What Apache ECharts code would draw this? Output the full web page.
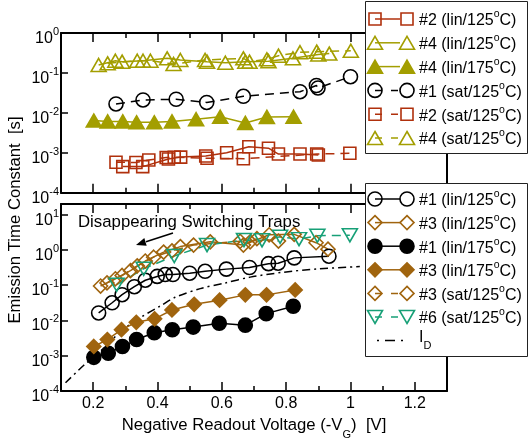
<!DOCTYPE html>
<html><head><meta charset="utf-8">
<script src="https://cdn.jsdelivr.net/npm/echarts@6/dist/echarts.min.js"></script>
<style>html,body{margin:0;padding:0;background:#fff}#c{width:529px;height:441px}</style>
</head><body><div id="c"></div>
<script>
// ---------------- DATA ----------------
const xMajorTicks = [0.2, 0.4, 0.6, 0.8, 1.0, 1.2];
const xMinorTicks = [0.3, 0.5, 0.7, 0.9, 1.1];

// top panel  [V, tau(s)]
const top2lin125 = [[0.292,0.00045],[0.354,0.00045],[0.434,0.0007],[0.472,0.00078],[0.55,0.00083],[0.615,0.001],[0.684,0.00142],[0.745,0.0013],[0.776,0.00093],[0.843,0.00093],[0.9,0.00088]];
const top4lin125 = [[0.217,0.158],[0.269,0.202],[0.290,0.191],[0.355,0.202],[0.430,0.232],[0.471,0.211],[0.554,0.191],[0.611,0.18],[0.673,0.191],[0.745,0.197],[0.821,0.232],[0.900,0.29],[0.934,0.305]];
const top4lin175 = [[0.202,0.0064],[0.245,0.0061],[0.292,0.0061],[0.335,0.0058],[0.390,0.0058],[0.445,0.0061],[0.520,0.0069],[0.595,0.008],[0.673,0.0056],[0.740,0.0079],[0.823,0.008]];
const top1sat125 = [[0.271,0.0167],[0.355,0.021],[0.458,0.0219],[0.553,0.0182],[0.667,0.026],[0.843,0.0339],[0.894,0.0484],[0.899,0.042],[1.0,0.0805]];
const top2sat125 = [[0.271,0.00058],[0.333,0.00057],[0.373,0.00066],[0.427,0.00076],[0.452,0.00077],[0.554,0.00073],[0.667,0.00071],[0.895,0.00093],[0.998,0.00097]];
const top4sat125 = [[0.245,0.174],[0.337,0.202],[0.378,0.202],[0.450,0.167],[0.548,0.211],[0.667,0.232],[0.686,0.191],[0.740,0.219],[0.776,0.27],[0.843,0.33],[0.895,0.34],[1.001,0.36]];

// bottom panel
const bot1lin125 = [[0.217,0.0163],[0.259,0.0317],[0.290,0.0537],[0.328,0.0904],[0.362,0.138],[0.399,0.177],[0.424,0.2],[0.448,0.2],[0.500,0.218],[0.548,0.247],[0.614,0.285],[0.686,0.317],[0.745,0.407],[0.775,0.42],[0.825,0.594],[0.933,0.661]];
const bot3lin125 = [[0.223,0.0946],[0.269,0.152],[0.316,0.258],[0.362,0.483],[0.419,0.865],[0.471,1.24],[0.564,1.69],[0.667,1.37],[0.747,2.68],[0.825,2.76],[0.893,1.6],[0.93,1.05]];
const bot1lin175 = [[0.202,0.0009],[0.247,0.00118],[0.291,0.00182],[0.335,0.00287],[0.390,0.00446],[0.446,0.00547],[0.511,0.00648],[0.592,0.00834],[0.673,0.00735],[0.738,0.0156],[0.822,0.0253]];
const bot3lin175 = [[0.202,0.00183],[0.244,0.00287],[0.288,0.00547],[0.334,0.00887],[0.391,0.0111],[0.445,0.0198],[0.514,0.0287],[0.593,0.0376],[0.673,0.0531],[0.739,0.0531],[0.828,0.0734]];
const bot3sat125 = [[0.243,0.116],[0.290,0.188],[0.337,0.353],[0.388,0.621],[0.445,0.94],[0.512,1.37],[0.657,1.76],[0.688,1.69],[0.709,2.08],[0.776,1.78]];
const bot6sat125 = [[0.273,0.103],[0.357,0.292],[0.452,0.673],[0.554,1.37],[0.669,1.9],[0.725,1.87],[0.781,2.36],[0.840,2.02],[0.897,2.52],[0.998,2.6]];
const botID = [[0.114,1.71e-4],[0.170,5.27e-4],[0.223,1.35e-3],[0.288,5.05e-3],[0.347,0.0121],[0.409,0.0258],[0.455,0.0454],[0.533,0.0798],[0.611,0.116],[0.688,0.169],[0.790,0.232],[0.896,0.288],[1.029,0.338]];

const annotationText = 'Disappearing Switching Traps';
const xTitleParts = ['Negative Readout Voltage (-V', 'G', ')  [V]'];
const yTitle = 'Emission Time Constant  [s]';

// ---------------- STYLE ----------------
const FONT = '"Liberation Sans", Arial, Helvetica, sans-serif';
const RED = '#B0300C', OLIVE = '#A39E00', BROWN = '#A0640E', GREEN = '#17A077', BLACK = '#000000';
const SYM = {
  circle: {s: 14},
  rect: {s: 12},
  triangle: {s: [15, 13]},
  triangleDown: {s: [15, 13]},
  diamond: {s: 14}
};

const topDefs = [
  {id:'#2', mode:'lin', temp:'125', data:top2lin125, sym:'rect', color:RED, filled:false, dash:false},
  {id:'#4', mode:'lin', temp:'125', data:top4lin125, sym:'triangle', color:OLIVE, filled:false, dash:false},
  {id:'#4', mode:'lin', temp:'175', data:top4lin175, sym:'triangle', color:OLIVE, filled:true, dash:false},
  {id:'#1', mode:'sat', temp:'125', data:top1sat125, sym:'circle', color:BLACK, filled:false, dash:true},
  {id:'#2', mode:'sat', temp:'125', data:top2sat125, sym:'rect', color:RED, filled:false, dash:true},
  {id:'#4', mode:'sat', temp:'125', data:top4sat125, sym:'triangle', color:OLIVE, filled:false, dash:true}
];
const botDefs = [
  {id:'#1', mode:'lin', temp:'125', data:bot1lin125, sym:'circle', color:BLACK, filled:false, dash:false},
  {id:'#3', mode:'lin', temp:'125', data:bot3lin125, sym:'diamond', color:BROWN, filled:false, dash:false},
  {id:'#1', mode:'lin', temp:'175', data:bot1lin175, sym:'circle', color:BLACK, filled:true, dash:false},
  {id:'#3', mode:'lin', temp:'175', data:bot3lin175, sym:'diamond', color:BROWN, filled:true, dash:false},
  {id:'#3', mode:'sat', temp:'125', data:bot3sat125, sym:'diamond', color:BROWN, filled:false, dash:true},
  {id:'#6', mode:'sat', temp:'125', data:bot6sat125, sym:'triangleDown', color:GREEN, filled:false, dash:true}
];

function makeSeries(d, xi, yi) {
  const isDown = d.sym === 'triangleDown';
  return {
    type:'line', xAxisIndex:xi, yAxisIndex:yi, data:d.data,
    symbol: isDown ? 'triangle' : d.sym, symbolRotate: isDown ? 180 : 0,
    symbolSize: SYM[d.sym].s, showAllSymbol:true,
    itemStyle:{color: d.filled ? d.color : 'rgba(255,255,255,0)', borderColor:d.color, borderWidth:1.6},
    lineStyle:{color:d.color, width:1.5, type: d.dash ? [9,6] : 'solid'},
    emphasis:{disabled:true}, silent:true, z:3
  };
}

function expFmt(v) {
  const l = Math.log10(v), e = Math.round(l);
  if (Math.abs(l - e) > 1e-6) return '';
  return '{b|10}{s|' + e + '}';
}
const yRich = {
  b:{fontSize:16, fontFamily:FONT, color:'#000', padding:[4,0,0,0]},
  s:{fontSize:11, fontFamily:FONT, color:'#000', verticalAlign:'top'}
};
const axLine = {show:true, onZero:false, lineStyle:{color:'#000', width:2}};

function xAxes(gi, labels) {
  const base = {gridIndex:gi, type:'value', min:0.1, max:1.3, splitLine:{show:false}, axisPointer:{show:false}};
  const a = [];
  a.push(Object.assign({}, base, {position:'bottom', axisLine:axLine,
    axisTick:{show:true, inside:true, length:9, customValues:xMajorTicks, lineStyle:{color:'#000', width:1.5}},
    axisLabel:{show:labels, customValues:xMajorTicks, margin:5, fontSize:16, fontFamily:FONT, color:'#000',
      formatter:v => (Math.abs(v-1)<1e-9 ? '1' : v.toFixed(1))},
    name: labels ? '{t|' + xTitleParts[0] + '}{sub|' + xTitleParts[1] + '}{t|' + xTitleParts[2] + '}' : '',
    nameLocation:'middle', nameGap:26,
    nameTextStyle:{rich:{t:{fontSize:16.7, fontFamily:FONT, color:'#000', padding:[0,0,6,0]}, sub:{fontSize:11, fontFamily:FONT, color:'#000', verticalAlign:'bottom'}}}
  }));
  a.push(Object.assign({}, base, {position:'bottom', axisLine:{show:false},
    axisTick:{show:true, inside:true, length:5, customValues:xMinorTicks, lineStyle:{color:'#000', width:1.5}},
    axisLabel:{show:false}}));
  a.push(Object.assign({}, base, {position:'top', axisLine:axLine,
    axisTick:{show:true, inside:true, length:9, customValues:xMajorTicks, lineStyle:{color:'#000', width:1.5}},
    axisLabel:{show:false}}));
  a.push(Object.assign({}, base, {position:'top', axisLine:{show:false},
    axisTick:{show:true, inside:true, length:5, customValues:xMinorTicks, lineStyle:{color:'#000', width:1.5}},
    axisLabel:{show:false}}));
  return a;
}
function yAxes(gi, max) {
  const base = {gridIndex:gi, type:'log', logBase:10, min:1e-4, max:max, splitLine:{show:false}, axisLine:axLine,
    axisTick:{show:true, inside:true, length:7, lineStyle:{color:'#000', width:1.5}}, axisPointer:{show:false}};
  return [
    Object.assign({}, base, {position:'left', axisLabel:{show:true, margin:2, padding:[7,0,0,0], formatter:expFmt, rich:yRich}}),
    Object.assign({}, base, {position:'right', axisLabel:{show:false}})
  ];
}

// ---------------- LEGEND (graphic) ----------------
function symShape(sym, cx, cy, color, filled) {
  const style = {fill: filled ? color : 'rgba(255,255,255,0)', stroke: color, lineWidth:1.6};
  if (sym === 'circle') return {type:'circle', shape:{cx:cx, cy:cy, r:7}, style:style};
  if (sym === 'rect') return {type:'rect', shape:{x:cx-6, y:cy-6, width:12, height:12}, style:style};
  if (sym === 'triangle') return {type:'polygon', shape:{points:[[cx,cy-6.5],[cx+7.5,cy+6.5],[cx-7.5,cy+6.5]]}, style:style};
  if (sym === 'triangleDown') return {type:'polygon', shape:{points:[[cx,cy+6.5],[cx+7.5,cy-6.5],[cx-7.5,cy-6.5]]}, style:style};
  return {type:'polygon', shape:{points:[[cx,cy-7],[cx+7,cy],[cx,cy+7],[cx-7,cy]]}, style:style};
}
const legRich = {
  t:{fontSize:16, fontFamily:FONT, color:'#000', padding:[4,0,0,0]},
  s:{fontSize:10.5, fontFamily:FONT, color:'#000', verticalAlign:'top'},
  sub:{fontSize:11, fontFamily:FONT, color:'#000', verticalAlign:'bottom'}
};
function legendGroup(defs, box, y0, dy, extra) {
  const els = [{type:'rect', shape:box, style:{fill:'#fff', stroke:'#222', lineWidth:1}}];
  defs.forEach((d, i) => {
    const y = y0 + i*dy;
    els.push({type:'line', shape:{x1:375, y1:y, x2:400, y2:y},
      style:{stroke:d.color, lineWidth:1.5, lineDash: d.dash ? [7,9] : null}});
    els.push(symShape(d.sym, 375, y, d.color, d.filled));
    els.push(symShape(d.sym, 407, y, d.color, d.filled));
    els.push({type:'text', x:419, y:y, style:{text:'{t|' + d.id + ' (' + d.mode + '/' + d.temp + '}{s|o}{t|C)}',
      rich:legRich, verticalAlign:'middle', align:'left'}});
  });
  if (extra) {
    const y = y0 + defs.length*dy;
    els.push({type:'line', shape:{x1:377, y1:y, x2:404, y2:y}, style:{stroke:'#000', lineWidth:1.5, lineDash:[2,6,10,6]}});
    els.push({type:'text', x:419, y:y, style:{text:'{i|I}{sub|D}', rich:{i:{fontSize:16, fontFamily:FONT, color:'#000', padding:[0,0,6,0]}, sub:legRich.sub}, verticalAlign:'middle', align:'left'}});
  }
  return els;
}

const graphics = [].concat(
  legendGroup(topDefs, {x:365.5, y:1.5, width:162, height:152}, 19, 23.8, false),
  legendGroup(botDefs, {x:365.5, y:183.5, width:162, height:173}, 199, 23.6, true),
  [
    {type:'text', x:78, y:222, style:{text:annotationText, fontSize:16.8, fontFamily:FONT, fill:'#000', verticalAlign:'middle', align:'left'}},
    {type:'line', shape:{x1:173, y1:233, x2:146, y2:241.8}, style:{stroke:'#000', lineWidth:1.5}},
    {type:'polygon', shape:{points:[[136,245],[146.7,245.7],[144.3,238.1]]}, style:{fill:'#000'}},
    {type:'text', x:15, y:220, rotation:Math.PI/2, style:{text:yTitle, fontSize:16.7, fontFamily:FONT, fill:'#000', align:'center', verticalAlign:'middle'}}
  ]
).map(e => Object.assign({z:100}, e));

// ---------------- CHART ----------------
const chart = echarts.init(document.getElementById('c'), null, {renderer:'canvas'});
const series = [];
topDefs.forEach(d => series.push(makeSeries(d, 0, 0)));
botDefs.forEach(d => series.push(makeSeries(d, 4, 2)));
series.push({type:'line', xAxisIndex:4, yAxisIndex:2, data:botID, symbol:'none', smooth:0.3,
  lineStyle:{color:'#000', width:1.5, type:[8,4,2,4]}, emphasis:{disabled:true}, silent:true, z:2});

chart.setOption({
  animation:false,
  backgroundColor:'#fff',
  textStyle:{fontFamily:FONT},
  grid:[
    {left:61, right:82, top:33, height:159.7, show:false},
    {left:61, right:82, top:204, bottom:42.7, show:false}
  ],
  xAxis:[].concat(xAxes(0, false), xAxes(1, true)),
  yAxis:[].concat(yAxes(0, 1), yAxes(1, 20)),
  series:series,
  graphic:{elements:graphics}
});
</script></body></html>
